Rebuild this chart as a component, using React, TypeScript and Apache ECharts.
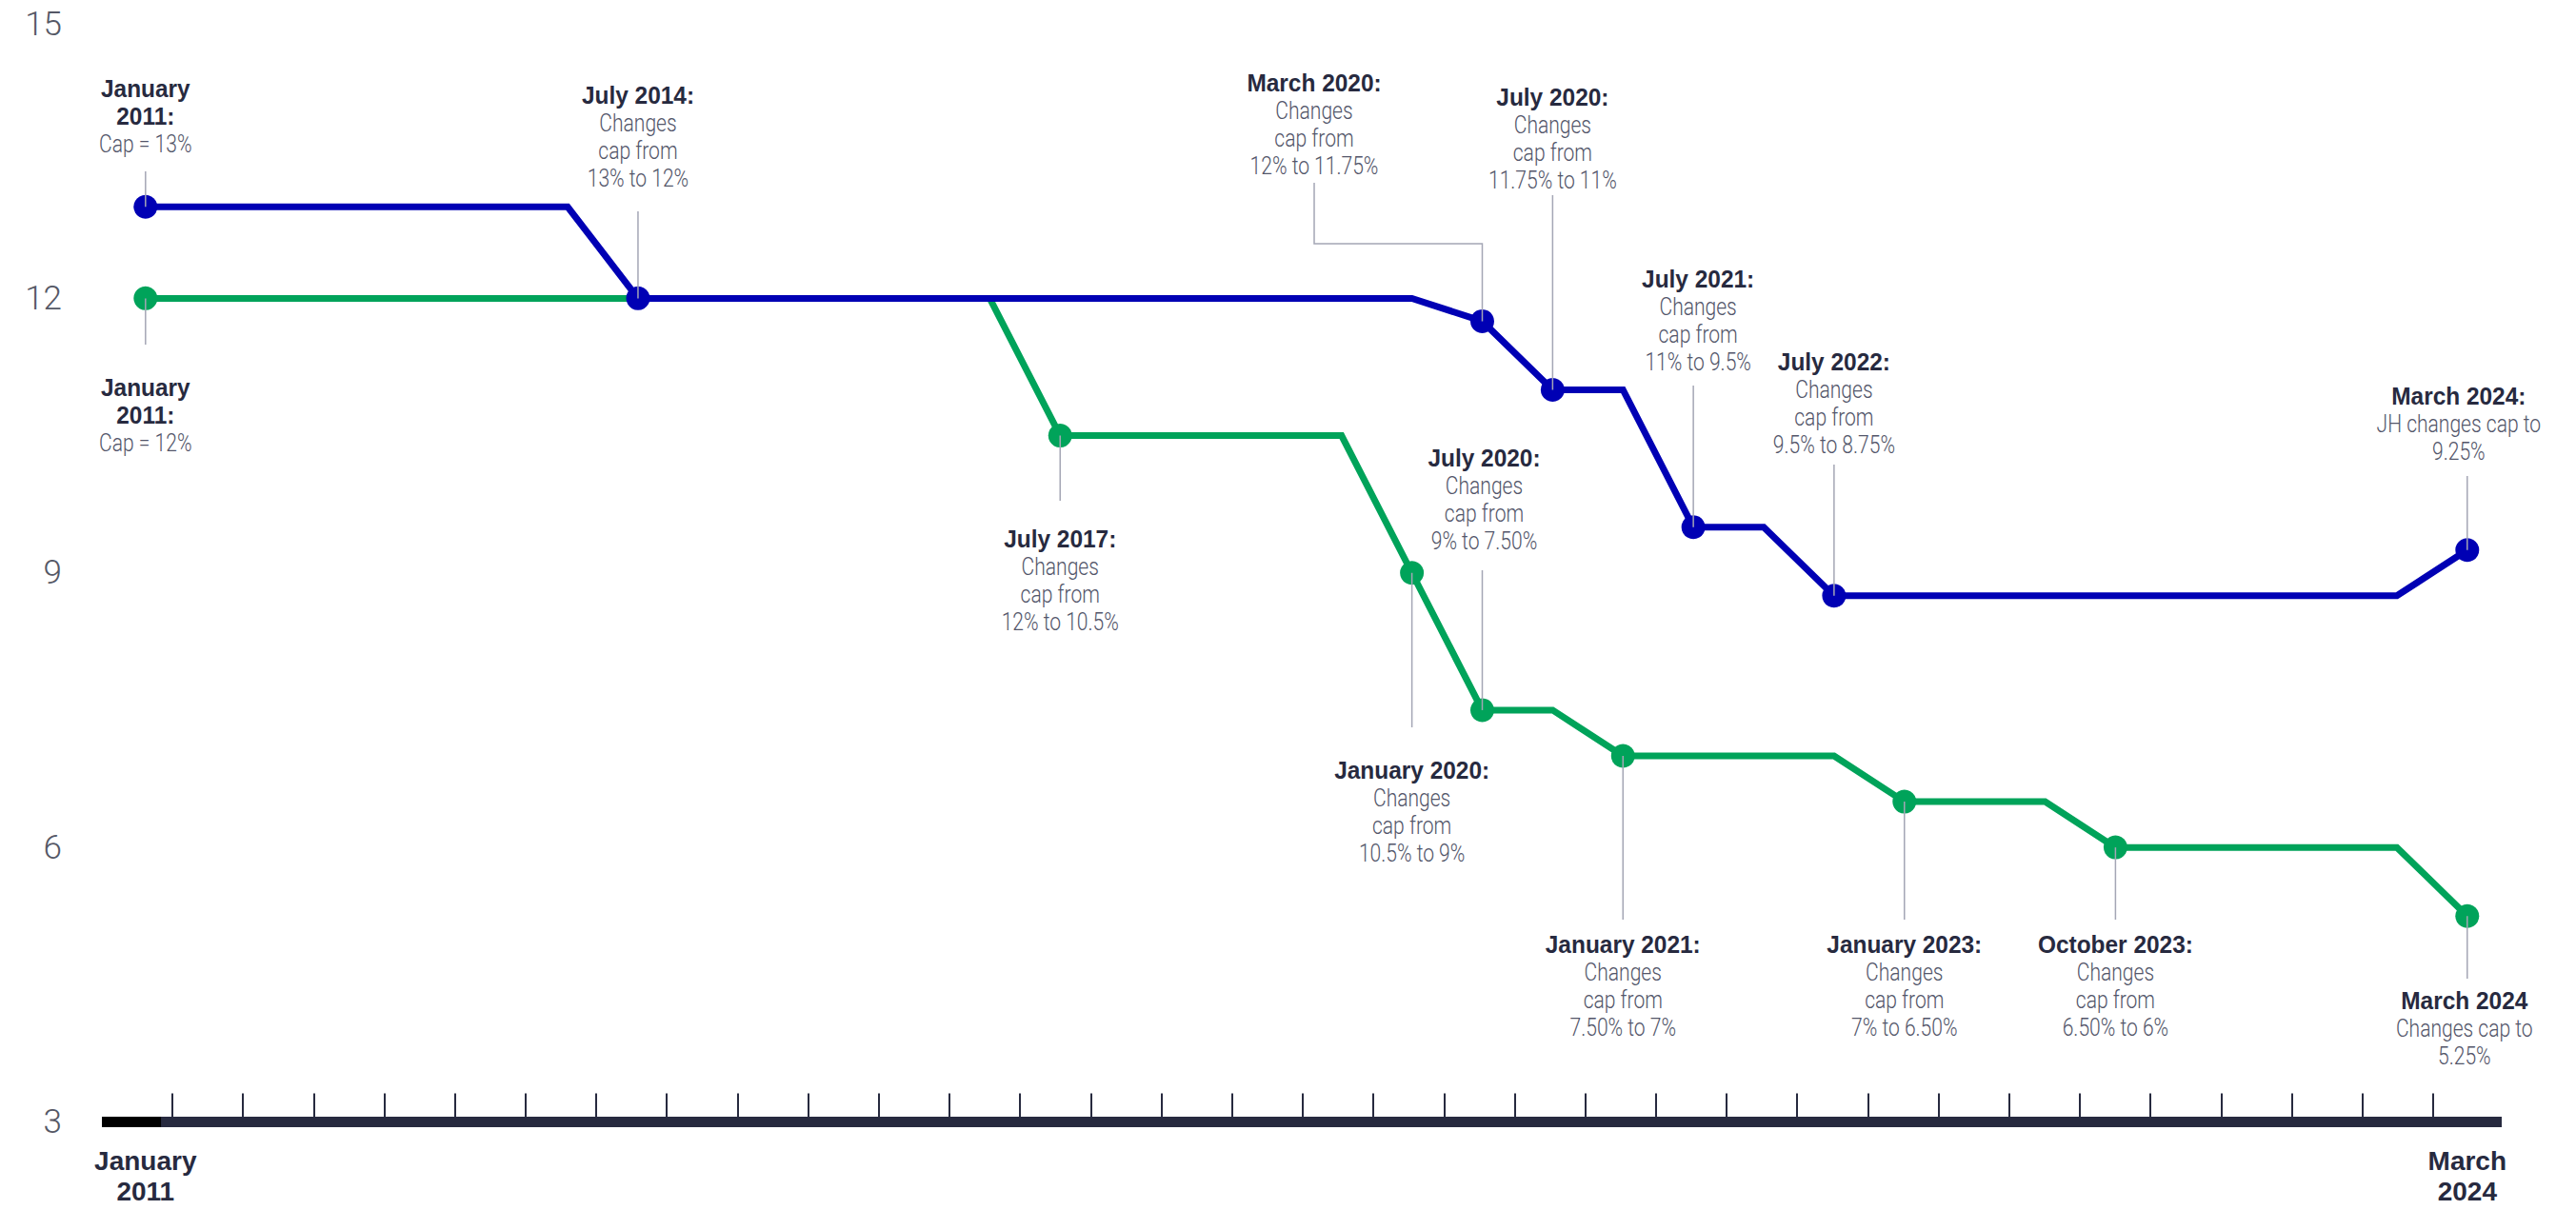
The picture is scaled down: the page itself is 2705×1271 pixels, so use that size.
import React, { useEffect, useRef } from "react";
import * as echarts from "echarts";

// ---------- data ----------
// Cap (%) at each evenly spaced step of the timeline (step 0 = January 2011, step 33 = March 2024)
const JH_CAP = [
  13, 13, 13, 13, 13, 13, 13,
  12, 12, 12, 12, 12, 12, 12, 12, 12, 12, 12, 12,
  11.75,
  11, 11,
  9.5, 9.5,
  8.75, 8.75, 8.75, 8.75, 8.75, 8.75, 8.75, 8.75, 8.75,
  9.25,
];
const OTHER_CAP = [
  12, 12, 12, 12, 12, 12, 12, 12, 12, 12, 12, 12, 12,
  10.5, 10.5, 10.5, 10.5, 10.5,
  9,
  7.5, 7.5,
  7, 7, 7, 7,
  6.5, 6.5, 6.5,
  6, 6, 6, 6, 6,
  5.25,
];
const X_LABEL_STEPS = [0, 33];
const X_LABELS = ["January\n2011", "March\n2024"];

const JH_NOTES = [
  { step: 0, title: ["January", "2011:"], body: ["Cap = 13%"] },
  { step: 7, title: ["July 2014:"], body: ["Changes", "cap from", "13% to 12%"] },
  { step: 19, title: ["March 2020:"], body: ["Changes", "cap from", "12% to 11.75%"] },
  { step: 20, title: ["July 2020:"], body: ["Changes", "cap from", "11.75% to 11%"] },
  { step: 22, title: ["July 2021:"], body: ["Changes", "cap from", "11% to 9.5%"] },
  { step: 24, title: ["July 2022:"], body: ["Changes", "cap from", "9.5% to 8.75%"] },
  { step: 33, title: ["March 2024:"], body: ["JH changes cap to", "9.25%"] },
];
const OTHER_NOTES = [
  { step: 0, title: ["January", "2011:"], body: ["Cap = 12%"] },
  { step: 13, title: ["July 2017:"], body: ["Changes", "cap from", "12% to 10.5%"] },
  { step: 18, title: ["January 2020:"], body: ["Changes", "cap from", "10.5% to 9%"] },
  { step: 19, title: ["July 2020:"], body: ["Changes", "cap from", "9% to 7.50%"] },
  { step: 21, title: ["January 2021:"], body: ["Changes", "cap from", "7.50% to 7%"] },
  { step: 25, title: ["January 2023:"], body: ["Changes", "cap from", "7% to 6.50%"] },
  { step: 28, title: ["October 2023:"], body: ["Changes", "cap from", "6.50% to 6%"] },
  { step: 33, title: ["March 2024"], body: ["Changes cap to", "5.25%"] },
];

// ---------- layout (pixels) ----------
const JH_LAYOUT: any[] = [
  { textY: 93, leaderY: 180 },
  { textY: 100, leaderY: 222 },
  { textY: 87, leaderY: 256, textX: 1380, elbowTop: 192 },
  { textY: 102, leaderY: 205 },
  { textY: 293, leaderY: 405, dx: 5 },
  { textY: 380, leaderY: 488 },
  { textY: 416, leaderY: 500, dx: -9 },
];
const OTHER_LAYOUT: any[] = [
  { textY: 407, leaderY: 362 },
  { textY: 566, leaderY: 526 },
  { textY: 809, leaderY: 764 },
  { textY: 481, leaderY: 599, dx: 2 },
  { textY: 992, leaderY: 966 },
  { textY: 992, leaderY: 966 },
  { textY: 992, leaderY: 966 },
  { textY: 1051, leaderY: 1028, dx: -3 },
];

const X_MIN = -0.62;
const X_MAX = 33.49;
const TICK_START = 0.38;
const TICK_STEP = 1.0042;
const TICK_COUNT = 33;
const AXIS_DARK_BAND = [-0.62, 0.22];

const BLUE = "#0000B4";
const GREEN = "#00A35A";
const NAVY = "#272A3F";
const GREY_TEXT = "#53566A";
const LEADER = "#A4A6B5";
const BODY_FONT = "Roboto, 'Liberation Sans', sans-serif";
const TITLE_FONT = "'Liberation Sans', Arial, sans-serif";
const LINE_H = 29;

export default function App() {
  const ref = useRef<HTMLDivElement>(null);

  useEffect(() => {
    if (!ref.current) return;
    const chart = echarts.init(ref.current, null, { renderer: "svg" });

    const ticks: number[] = [];
    for (let k = 0; k < TICK_COUNT; k++) ticks.push(+(TICK_START + k * TICK_STEP).toFixed(4));

    chart.setOption({
      animation: false,
      backgroundColor: "#ffffff",
      grid: { left: 107, right: 78, top: 25, bottom: 92.5, containLabel: false },
      xAxis: {
        type: "value",
        min: X_MIN,
        max: X_MAX,
        axisLine: { show: true, onZero: false, lineStyle: { color: NAVY, width: 11, cap: "butt" } },
        axisTick: {
          show: true,
          inside: true,
          length: 30,
          customValues: ticks,
          lineStyle: { color: NAVY, width: 2 },
        },
        axisLabel: {
          show: true,
          customValues: X_LABEL_STEPS,
          formatter: (v: number) => {
            const idx = X_LABEL_STEPS.indexOf(Math.round(v));
            return idx >= 0 ? X_LABELS[idx] : "";
          },
          margin: 25,
          fontFamily: TITLE_FONT,
          fontWeight: "bold",
          fontSize: 28,
          lineHeight: 32,
          color: NAVY,
        },
        splitLine: { show: false },
      },
      yAxis: {
        type: "value",
        min: 3,
        max: 15,
        interval: 3,
        axisLine: { show: false },
        axisTick: { show: false },
        splitLine: { show: false },
        axisLabel: {
          margin: 42,
          fontFamily: BODY_FONT,
          fontWeight: 300,
          fontSize: 35,
          color: "#555866",
        },
      },
      series: [
        {
          type: "line",
          name: "axis start",
          data: AXIS_DARK_BAND.map((x) => [x, 3]),
          symbol: "none",
          clip: false,
          lineStyle: { color: "#000000", width: 11, cap: "butt" },
          z: 1,
          silent: true,
        },
        {
          type: "line",
          name: "Other cap",
          data: OTHER_CAP.map((v, i) => [i, v]),
          showSymbol: false,
          symbol: "none",
          lineStyle: { color: GREEN, width: 7, join: "miter" },
          z: 2,
        },
        {
          type: "line",
          name: "JH cap",
          data: JH_CAP.map((v, i) => [i, v]),
          showSymbol: false,
          symbol: "none",
          lineStyle: { color: BLUE, width: 7, join: "miter" },
          z: 3,
        },
        {
          type: "scatter",
          name: "Other changes",
          data: OTHER_NOTES.map((n) => [n.step, OTHER_CAP[n.step]]),
          symbolSize: 25,
          itemStyle: { color: GREEN, opacity: 1 },
          z: 4,
        },
        {
          type: "scatter",
          name: "JH changes",
          data: JH_NOTES.map((n) => [n.step, JH_CAP[n.step]]),
          symbolSize: 25,
          itemStyle: { color: BLUE, opacity: 1 },
          z: 5,
        },
      ],
    });

    const elements: any[] = [];
    const addNote = (note: any, layout: any, values: number[]) => {
      const [px, py] = chart.convertToPixel({ gridIndex: 0 }, [note.step, values[note.step]]) as number[];
      const tx = layout.textX !== undefined ? layout.textX : px + (layout.dx || 0);
      if (layout.elbowTop !== undefined) {
        elements.push({
          type: "polyline",
          z: 100,
          silent: true,
          shape: {
            points: [
              [tx, layout.elbowTop],
              [tx, layout.leaderY],
              [px, layout.leaderY],
              [px, py],
            ],
          },
          style: { stroke: LEADER, lineWidth: 1.5, fill: null },
        });
      } else {
        elements.push({
          type: "line",
          z: 100,
          silent: true,
          shape: { x1: px, y1: py, x2: px, y2: layout.leaderY },
          style: { stroke: LEADER, lineWidth: 1.5 },
        });
      }
      const lines = [
        ...note.title.map((t: string) => ({ t, bold: true })),
        ...note.body.map((t: string) => ({ t, bold: false })),
      ];
      lines.forEach((ln: any, k: number) => {
        elements.push({
          type: "text",
          z: 101,
          silent: true,
          x: tx,
          y: layout.textY + k * LINE_H,
          scaleX: ln.bold ? 0.94 : 0.81,
          style: {
            text: ln.t,
            fill: ln.bold ? NAVY : GREY_TEXT,
            fontFamily: ln.bold ? TITLE_FONT : BODY_FONT,
            fontWeight: ln.bold ? "bold" : 300,
            fontSize: 26,
            align: "center",
            verticalAlign: "middle",
            textAlign: "center",
            textVerticalAlign: "middle",
          },
        });
      });
    };
    JH_NOTES.forEach((n, i) => addNote(n, JH_LAYOUT[i], JH_CAP));
    OTHER_NOTES.forEach((n, i) => addNote(n, OTHER_LAYOUT[i], OTHER_CAP));

    chart.setOption({ graphic: elements });

    return () => {
      chart.dispose();
    };
  }, []);

  return (
    <div
      ref={ref}
      style={{ position: "fixed", left: 0, top: 0, width: "2705px", height: "1271px", background: "#fff" }}
    />
  );
}
